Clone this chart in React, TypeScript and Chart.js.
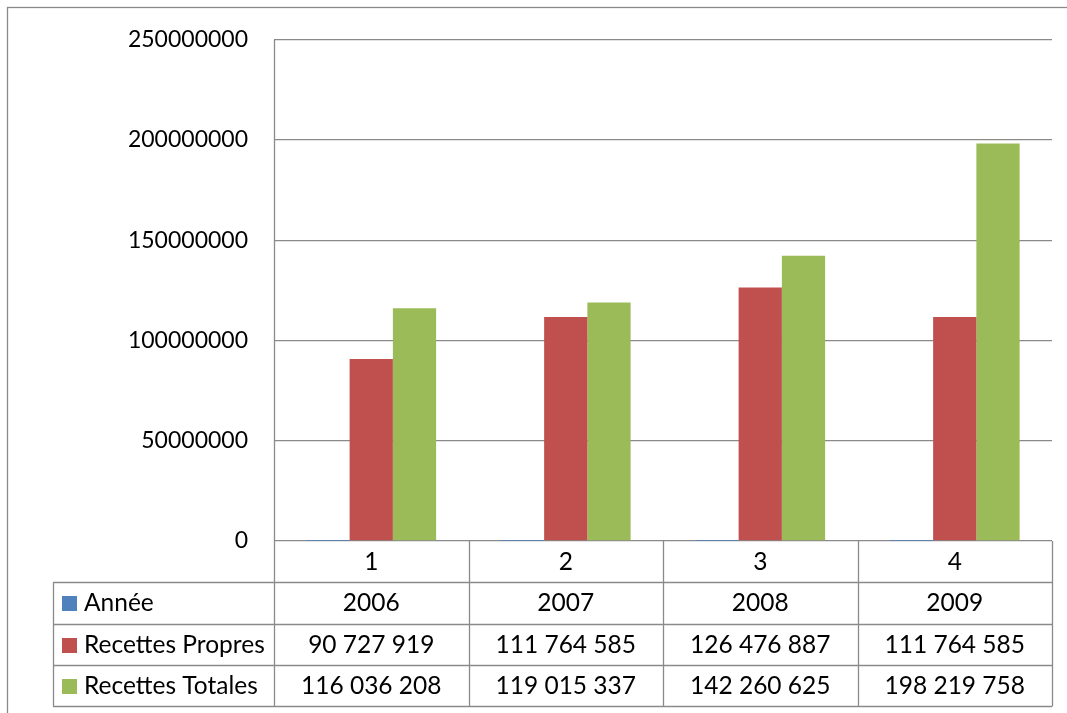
import React, { useEffect, useRef } from "react";
import { Chart, registerables } from "chart.js";

Chart.register(...registerables);

const categories = ["1", "2", "3", "4"];
const seriesNames = ["Année", "Recettes Propres", "Recettes Totales"];
const annee = [2006, 2007, 2008, 2009];
const recettesPropres = [90727919, 111764585, 126476887, 111764585];
const recettesTotales = [116036208, 119015337, 142260625, 198219758];
const seriesColors = ["#4F81BD", "#C0504D", "#9BBB59"];
const yMin = 0;
const yMax = 250000000;
const yStep = 50000000;

const FONT = "Lato, 'Open Sans', sans-serif";
const FONT_SIZE = 23;
const TABLE_FONT_SIZE = 24.5;
const LINE = "#8a8a8a";

function groupDigits(v: number): string {
  return String(v).replace(/\B(?=(\d{3})+(?!\d))/g, " ");
}

const tablePlugin = {
  id: "dataTable",
  afterDraw(chart: any) {
    const ctx = chart.ctx as CanvasRenderingContext2D;
    const area = chart.chartArea;
    const xs = chart.scales.x;
    const n = categories.length;
    const catW = (area.right - area.left) / n;
    const rowH = 41.3;
    const top = area.bottom;
    const tableLeft = 53;
    ctx.save();
    ctx.strokeStyle = LINE;
    ctx.lineWidth = 1.3;
    // outer chart border
    ctx.strokeRect(7.5, 7.5, chart.width + 20, chart.height + 20);
    const bottom = top + rowH * 4;
    ctx.beginPath();
    for (let r = 1; r <= 4; r++) {
      const y = Math.round(top + rowH * r) + 0.5;
      ctx.moveTo(tableLeft, y);
      ctx.lineTo(area.right, y);
    }
    ctx.moveTo(tableLeft + 0.5, Math.round(top + rowH) + 0.5);
    ctx.lineTo(tableLeft + 0.5, Math.round(bottom) + 0.5);
    ctx.moveTo(Math.round(area.left) + 0.5, area.top);
    ctx.lineTo(Math.round(area.left) + 0.5, Math.round(bottom) + 0.5);
    for (let i = 1; i <= n; i++) {
      const x = Math.round(area.left + catW * i) + 0.5;
      ctx.moveTo(x, top);
      ctx.lineTo(x, Math.round(bottom) + 0.5);
    }
    ctx.stroke();

    ctx.fillStyle = "#000";
    ctx.font = `${TABLE_FONT_SIZE}px ${FONT}`;
    ctx.textBaseline = "middle";
    ctx.textAlign = "center";
    const rows: string[][] = [
      categories,
      annee.map((v) => String(v)),
      recettesPropres.map(groupDigits),
      recettesTotales.map(groupDigits),
    ];
    rows.forEach((row, r) => {
      const cy = top + rowH * (r + 0.5) + 0.5;
      row.forEach((txt, i) => {
        const cx = xs.getPixelForValue(i);
        ctx.fillText(txt, cx, cy);
      });
    });
    ctx.textAlign = "left";
    seriesNames.forEach((name, s) => {
      const cy = top + rowH * (s + 1.5) + 0.5;
      ctx.fillStyle = seriesColors[s];
      ctx.fillRect(62, Math.round(cy - 7), 15, 15);
      ctx.fillStyle = "#000";
      ctx.fillText(name, 84, cy);
    });
    ctx.restore();
  },
};

export default function App() {
  const ref = useRef<HTMLCanvasElement | null>(null);
  useEffect(() => {
    if (!ref.current) return;
    const chart = new Chart(ref.current, {
      type: "bar",
      data: {
        labels: categories,
        datasets: [
          { label: seriesNames[0], data: annee, backgroundColor: seriesColors[0] },
          { label: seriesNames[1], data: recettesPropres, backgroundColor: seriesColors[1] },
          { label: seriesNames[2], data: recettesTotales, backgroundColor: seriesColors[2] },
        ],
      },
      options: {
        animation: false,
        responsive: false,
        maintainAspectRatio: false,
        layout: { padding: { left: 0, right: 15, top: 37, bottom: 172 } },
        datasets: { bar: { categoryPercentage: 0.667, barPercentage: 1 } },
        plugins: { legend: { display: false }, tooltip: { enabled: false } },
        scales: {
          x: { display: false },
          y: {
            min: yMin,
            max: yMax,
            afterFit: (s: any) => {
              s.width = 274;
            },
            ticks: {
              stepSize: yStep,
              padding: 26,
              color: "#000",
              font: { family: FONT, size: FONT_SIZE },
              callback: (v: any) => String(v),
            },
            grid: { color: LINE, lineWidth: 1.3, drawTicks: false },
            border: { display: false },
          },
        },
      },
      plugins: [tablePlugin],
    });
    return () => chart.destroy();
  }, []);
  return (
    <div style={{ position: "fixed", left: 0, top: 0, width: 1067, height: 713, background: "#fff" }}>
      <canvas ref={ref} width={1067} height={713} style={{ display: "block" }} />
    </div>
  );
}
